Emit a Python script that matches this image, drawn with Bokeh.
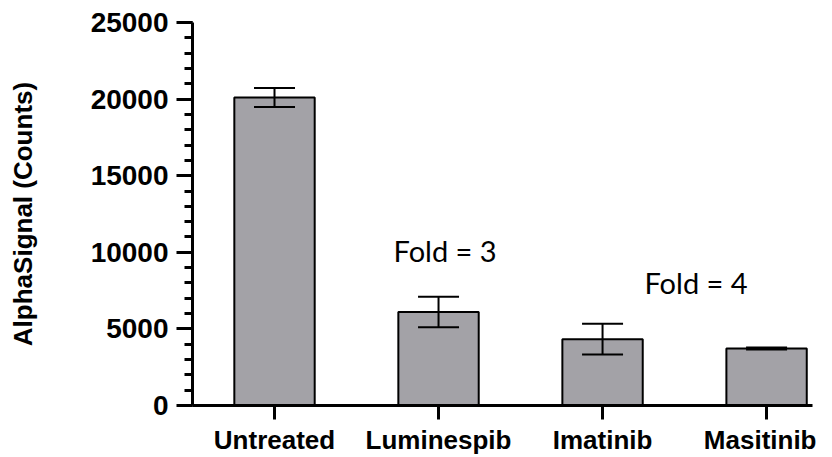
from bokeh.plotting import figure
from bokeh.models import ColumnDataSource, Range1d, FixedTicker, Whisker, TeeHead
from bokeh.core.properties import value
from bokeh.embed import file_html
from bokeh.resources import INLINE

categories = ["Untreated", "Luminespib", "Imatinib", "Masitinib"]
means = [20100, 6100, 4330, 3720]
errors = [620, 1000, 1000, 60]

ann_text = ["Fold = 3", "Fold = 4"]
ann_x = [1.04, 2.57]
ann_y = [10090, 8010]

xs = list(range(len(categories)))
src = ColumnDataSource(dict(
    x=xs, top=means,
    upper=[m + e for m, e in zip(means, errors)],
    lower=[m - e for m, e in zip(means, errors)],
))

p = figure(width=816, height=457, output_backend="svg", toolbar_location=None,
           x_range=Range1d(-0.5, 3.28), y_range=Range1d(0, 25000),
           min_border_left=192, min_border_right=4, min_border_top=22, min_border_bottom=51)
p.outline_line_color = None
p.grid.visible = False
p.background_fill_color = "white"

p.vbar(x="x", top="top", bottom=0, width=0.49, source=src,
       fill_color="#A3A2A7", line_color="black", line_width=2)

w = Whisker(base="x", upper="upper", lower="lower", source=src,
            line_color="black", line_width=2, level="overlay",
            upper_head=TeeHead(size=41, line_color="black", line_width=2),
            lower_head=TeeHead(size=41, line_color="black", line_width=2))
p.add_layout(w)

asrc = ColumnDataSource(dict(x=ann_x, y=ann_y, t=ann_text))
p.text(x="x", y="y", text="t", source=asrc, text_align="center",
       text_baseline="alphabetic", text_font=value("Lato"),
       text_font_size="29px", text_color="black")

# y axis
ya = p.yaxis[0]
ya.ticker = FixedTicker(ticks=[0, 5000, 10000, 15000, 20000, 25000],
                        minor_ticks=list(range(0, 25001, 1000)))
ya.axis_label = "AlphaSignal (Counts)"
ya.axis_label_text_font = "Liberation Sans"
ya.axis_label_text_font_style = "bold"
ya.axis_label_text_font_size = "26px"
ya.axis_label_text_color = "black"
ya.axis_label_standoff = 50
ya.major_label_text_font = "Liberation Sans"
ya.major_label_text_font_style = "bold"
ya.major_label_text_font_size = "28px"
ya.major_label_text_color = "black"
ya.major_label_standoff = 8
ya.axis_line_width = 3
ya.axis_line_color = "black"
ya.major_tick_line_width = 3
ya.major_tick_out = 16
ya.major_tick_in = 0
ya.minor_tick_line_width = 3
ya.minor_tick_out = 8
ya.minor_tick_in = 0

# x axis
xa = p.xaxis[0]
xa.ticker = FixedTicker(ticks=xs, minor_ticks=[])
xa.major_label_overrides = {i: c for i, c in zip(xs, categories)}
xa.major_label_text_font = "Liberation Sans"
xa.major_label_text_font_style = "bold"
xa.major_label_text_font_size = "26px"
xa.major_label_text_color = "black"
xa.major_label_standoff = 5
xa.axis_line_width = 3
xa.axis_line_color = "black"
xa.major_tick_line_width = 3
xa.major_tick_out = 14
xa.major_tick_in = 0
xa.minor_tick_line_color = None

open("out.html", "w").write(file_html(p, INLINE))
